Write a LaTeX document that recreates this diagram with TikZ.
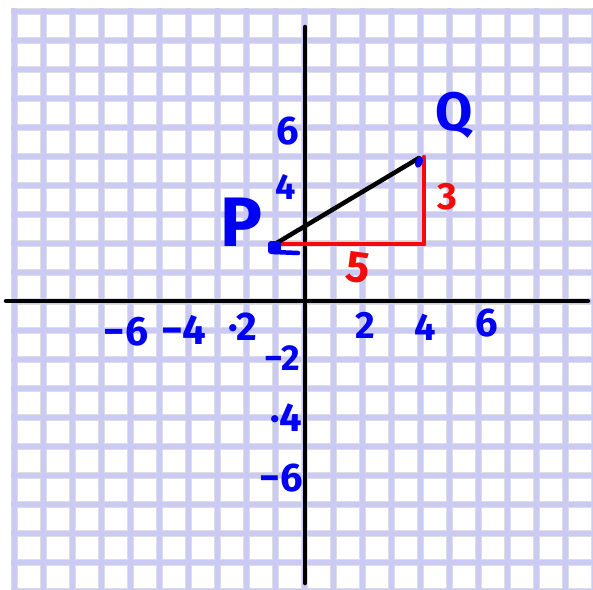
\documentclass[tikz,border=0pt]{standalone}
\usepackage{fontspec}
\setmainfont{Fira Sans}
\definecolor{gridlav}{RGB}{202,202,244}
\definecolor{gridgray}{RGB}{222,222,226}
\definecolor{penblue}{RGB}{0,0,245}
\definecolor{penred}{RGB}{245,10,10}
\begin{document}
\begin{tikzpicture}[x=1pt,y=-1pt,line cap=round,line join=round,
  gridbord/.style={line width=7pt,draw=gridgray,line cap=butt},
  gridline/.style={line width=5pt,draw=gridlav,line cap=butt},
  axisline/.style={line width=4.5pt,draw=black},
  segline/.style={line width=4.5pt,draw=black},
  redline/.style={line width=4.5pt,draw=penred},
  lbl/.style={text=penblue,font=\bfseries\fontsize{40}{40}\selectfont,inner sep=0pt},
  redlbl/.style={text=penred,font=\bfseries\fontsize{40}{40}\selectfont,inner sep=0pt}]
\useasboundingbox (0,0) rectangle (593,589);
\fill[white] (0,0) rectangle (593,589);
% grid paper
\begin{scope}
\clip (11,8) rectangle (593,589);
\foreach \k in {0,...,20} {
  \draw[gridbord] ({14.5+29*\k},0) -- ({14.5+29*\k},600);
  \draw[gridbord] (0,{11.5+29*\k}) -- (600,{11.5+29*\k});
}
\foreach \k in {0,...,20} {
  \draw[gridline] ({14.5+29*\k},0) -- ({14.5+29*\k},600);
}
\foreach \k in {0,...,20} {
  \draw[gridline] (0,{11.5+29*\k}) -- (600,{11.5+29*\k});
}
\end{scope}
% axes
\coordinate (xl) at (6,301);
\coordinate (xr) at (588,301);
\coordinate (yt) at (305,27);
\coordinate (yb) at (305,583);
\draw[axisline] (xl) -- (xr);
\draw[axisline] (yt) -- (yb);
% points
\coordinate (P) at (275,244);
\coordinate (Q) at (419,158);
\coordinate (Rt) at (424,157);
\coordinate (R) at (424,244);
\draw[redline] (P) -- (R);
\draw[redline] (R) -- (Rt);
\draw[segline] (P) -- (Q);
\fill[penblue,rounded corners=3pt] (268,241) rectangle (281,254);
\draw[penblue,line width=4.5pt] (274,252) -- (298,253);
\fill[penblue,rotate around={-20:(419,162)}] (419,162) ellipse (3.5pt and 6pt);
% labels
\node[lbl,font=\bfseries\fontsize{70}{70}\selectfont] (Plab) at (241,222) {P};
\node[lbl,font=\bfseries\fontsize{54}{54}\selectfont] (Qlab) at (454,115) {Q};
\node[lbl] (y6) at (288,131) {6};
\node[lbl,font=\bfseries\fontsize{36}{36}\selectfont] (y4) at (286,187) {4};
\node[redlbl,font=\bfseries\fontsize{38}{38}\selectfont] (three) at (447,197) {3};
\node[redlbl,font=\bfseries\fontsize{44}{44}\selectfont,rotate=-8] (five) at (358,268) {5};
\node[lbl,font=\bfseries\fontsize{41}{41}\selectfont] (xm6) at (126,332) {−6};
\node[lbl,font=\bfseries\fontsize{42}{42}\selectfont] (xm4) at (184,330) {−4};
\node[lbl] (xm2) at (243,327) {·2};
\node[lbl,font=\bfseries\fontsize{38}{38}\selectfont] (x2) at (365,325) {2};
\node[lbl,font=\bfseries\fontsize{38}{38}\selectfont] (x4) at (425,327) {4};
\node[lbl] (x6) at (487,323) {6};
\node[lbl,font=\bfseries\fontsize{36}{36}\selectfont] (ym2) at (282,358) {−2};
\node[lbl] (ym4) at (286,418) {·4};
\node[lbl] (ym6) at (281,478) {−6};
\end{tikzpicture}
\end{document}
